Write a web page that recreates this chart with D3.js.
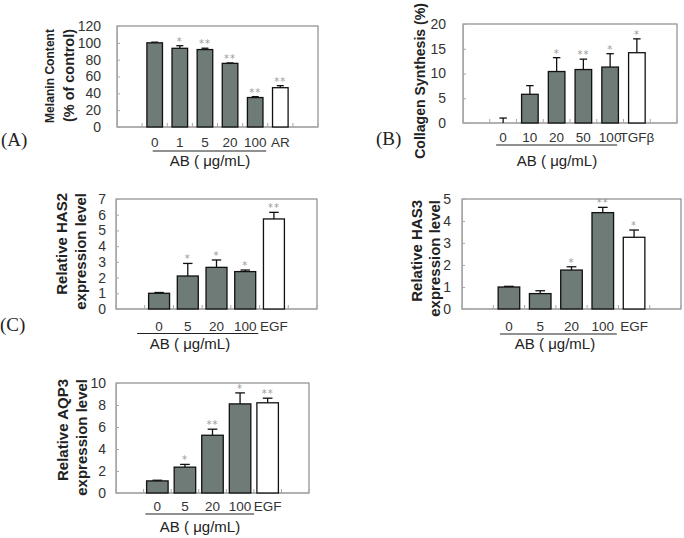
<!DOCTYPE html>
<html>
<head>
<meta charset="utf-8">
<script src="https://cdn.jsdelivr.net/npm/d3@7"></script>
<style>
  body { margin: 0; background: #fff; }
  svg { display: block; }
</style>
</head>
<body>
<svg width="684" height="538"></svg>
<script>
// ---- data ----
const melCats = ["0", "1", "5", "20", "100", "AR"];
const melValues = [100, 93.5, 92, 75.6, 35, 46.7];
const melErrors = [0.8, 3.1, 1.6, 0.5, 1.1, 2.4];
const melStars = ["", "*", "**", "**", "**", "**"];
const melTicks = [0, 20, 40, 60, 80, 100, 120];

const colCats = ["0", "10", "20", "50", "100", "TGFβ"];
const colValues = [0, 5.8, 10.4, 10.8, 11.3, 14.2];
const colErrors = [1.0, 1.75, 2.8, 2.1, 2.7, 2.8];
const colStars = ["", "", "*", "**", "*", "*"];
const colTicks = [0, 5, 10, 15, 20];

const egfCats = ["0", "5", "20", "100", "EGF"];

const has2Values = [1.0, 2.1, 2.65, 2.38, 5.73];
const has2Errors = [0.05, 0.8, 0.47, 0.1, 0.42];
const has2Stars = ["", "*", "*", "*", "**"];
const has2Ticks = [0, 1, 2, 3, 4, 5, 6, 7];

const has3Values = [1.0, 0.7, 1.77, 4.38, 3.26];
const has3Errors = [0.03, 0.13, 0.15, 0.24, 0.33];
const has3Stars = ["", "", "*", "**", "*"];
const has3Ticks = [0, 1, 2, 3, 4, 5];

const aqp3Values = [1.1, 2.35, 5.25, 8.1, 8.2];
const aqp3Errors = [0.06, 0.25, 0.55, 1.0, 0.42];
const aqp3Stars = ["", "*", "**", "*", "**"];
const aqp3Ticks = [0, 2, 4, 6, 8, 10];

const unitLabel = "AB ( μg/mL)";

const svg = d3.select("svg");
const barGrey = "#6e7b77";
const tickFont = "'Liberation Sans Narrow', 'Liberation Sans', sans-serif";
const titleFont = "'Liberation Sans', Arial, sans-serif";

function drawPanel(p) {
  const g = svg.append("g");
  const n = p.cats.length;
  const pi = p.pad;

  // one empty slot on each side of the bars
  const x = d3.scaleBand()
    .domain(p.cats)
    .range([p.left, p.right])
    .paddingInner(pi)
    .paddingOuter(1 + pi / 2);
  const y = d3.scaleLinear()
    .domain([0, d3.max(p.ticks)])
    .range([p.bottom, p.top]);

  // frame
  g.append("rect")
    .attr("x", p.left).attr("y", p.top)
    .attr("width", p.right - p.left).attr("height", p.bottom - p.top)
    .attr("fill", "none").attr("stroke", "#8c8c8c").attr("stroke-width", 1.2);

  // y axis
  const ya = g.append("g")
    .attr("transform", `translate(${p.left},0)`)
    .call(d3.axisLeft(y).tickValues(p.ticks).tickFormat(d3.format("d"))
      .tickSizeInner(-3).tickSizeOuter(0).tickPadding(p.tickPad));
  ya.select(".domain").attr("stroke", "#a8a8a8");
  ya.selectAll(".tick line").attr("stroke", "#a8a8a8");
  ya.selectAll(".tick text")
    .attr("font-family", tickFont).attr("font-size", 14).attr("fill", "#333");

  // bottom axis with slot boundary marks
  g.append("line")
    .attr("x1", p.left).attr("x2", p.right)
    .attr("y1", p.bottom).attr("y2", p.bottom)
    .attr("stroke", "#a8a8a8").attr("stroke-width", 1.2);
  const bounds = d3.range(n + 3).map(i => x.range()[0] + i * x.step());
  g.selectAll(".slot").data(bounds).enter().append("line")
    .attr("x1", d => d).attr("x2", d => d)
    .attr("y1", p.bottom).attr("y2", p.bottom - 4)
    .attr("stroke", "#a8a8a8");

  const rows = p.cats.map((c, i) => ({ c, v: p.values[i], e: p.errors[i], s: p.stars[i], last: i === n - 1 }));

  // error bars (upper only)
  const cap = x.bandwidth() * 0.45;
  rows.forEach(d => {
    const cx = x(d.c) + x.bandwidth() / 2;
    g.append("line")
      .attr("x1", cx).attr("x2", cx)
      .attr("y1", y(d.v)).attr("y2", y(d.v + d.e))
      .attr("stroke", "#111").attr("stroke-width", 1.3);
    g.append("line")
      .attr("x1", cx - cap / 2).attr("x2", cx + cap / 2)
      .attr("y1", y(d.v + d.e)).attr("y2", y(d.v + d.e))
      .attr("stroke", "#111").attr("stroke-width", 1.3);
  });

  // bars
  g.selectAll(".bar").data(rows).enter().append("rect")
    .attr("x", d => x(d.c))
    .attr("y", d => y(d.v))
    .attr("width", x.bandwidth())
    .attr("height", d => y(0) - y(d.v))
    .attr("fill", d => d.last ? "#fff" : barGrey)
    .attr("stroke", "#111").attr("stroke-width", 1.3);

  // significance marks
  g.selectAll(".star").data(rows).enter().append("text")
    .attr("x", d => x(d.c) + x.bandwidth() / 2)
    .attr("y", d => y(d.v + d.e) - 1)
    .attr("text-anchor", "middle")
    .attr("font-family", "'DejaVu Sans', sans-serif")
    .attr("font-size", 10).attr("letter-spacing", 1)
    .attr("fill", "#9a9a9a")
    .text(d => d.s);

  // category labels
  g.selectAll(".cat").data(rows).enter().append("text")
    .attr("x", d => x(d.c) + x.bandwidth() / 2)
    .attr("y", p.labelY)
    .attr("text-anchor", "middle")
    .attr("font-family", tickFont).attr("font-size", 13.5).attr("fill", "#333")
    .text(d => d.c);

  // bracket line under the AB doses
  const firstC = x(p.cats[0]) + x.bandwidth() / 2;
  const lastC = x(p.cats[n - 2]) + x.bandwidth() / 2;
  g.append("line")
    .attr("x1", firstC - p.ulL).attr("x2", lastC + p.ulR)
    .attr("y1", p.ulY).attr("y2", p.ulY)
    .attr("stroke", "#222").attr("stroke-width", 1.2);
  g.append("text")
    .attr("x", p.abX).attr("y", p.abY)
    .attr("text-anchor", "middle")
    .attr("font-family", tickFont).attr("font-size", 15).attr("fill", "#222")
    .text(unitLabel);

  // y titles: font size chosen so the natural length matches the figure
  p.titles.forEach(t => {
    const txt = g.append("text")
      .attr("transform", `translate(${t.x},${p.titleTop}) rotate(-90)`)
      .attr("text-anchor", "end")
      .attr("font-family", titleFont)
      .attr("font-weight", "bold")
      .attr("font-size", 14)
      .attr("fill", "#222")
      .text(t.text);
    const w = txt.node().getComputedTextLength();
    const fs = Math.min(15, 14 * t.len / w);
    txt.attr("font-size", fs).attr("dy", (0.35 * fs) + "px");
  });

  if (p.tag) {
    g.append("text")
      .attr("x", p.tag.x).attr("y", p.tag.y)
      .attr("font-family", "'Liberation Serif', 'DejaVu Serif', serif")
      .attr("font-size", 19).attr("fill", "#222")
      .text(p.tag.text);
  }
}

drawPanel({
  cats: melCats, values: melValues, errors: melErrors, stars: melStars, ticks: melTicks,
  left: 117, right: 318, top: 26, bottom: 127, pad: 0.38, tickPad: 16,
  labelY: 147, ulY: 151, ulL: 2, ulR: 11, abX: 210, abY: 166,
  titleTop: 29,
  titles: [{ text: "Melanin Content", x: 50, len: 94 },
           { text: "(% of control)", x: 69, len: 93 }],
  tag: { text: "(A)", x: 1, y: 146 }
});

drawPanel({
  cats: colCats, values: colValues, errors: colErrors, stars: colStars, ticks: colTicks,
  left: 463, right: 677, top: 24, bottom: 123, pad: 0.38, tickPad: 17,
  labelY: 142, ulY: 145, ulL: 7, ulR: 7, abX: 557, abY: 166,
  titleTop: 3,
  titles: [{ text: "Collagen Synthesis (%)", x: 420, len: 156 }],
  tag: { text: "(B)", x: 376, y: 145 }
});

drawPanel({
  cats: egfCats, values: has2Values, errors: has2Errors, stars: has2Stars, ticks: has2Ticks,
  left: 116, right: 317, top: 199, bottom: 309, pad: 0.27, tickPad: 10,
  labelY: 331, ulY: 333.5, ulL: 22, ulR: 13, abX: 190, abY: 349,
  titleTop: 193,
  titles: [{ text: "Relative HAS2", x: 62, len: 110 },
           { text: "expression level", x: 81, len: 122 }],
  tag: { text: "(C)", x: 0, y: 331 }
});

drawPanel({
  cats: egfCats, values: has3Values, errors: has3Errors, stars: has3Stars, ticks: has3Ticks,
  left: 462, right: 681, top: 199, bottom: 309, pad: 0.31, tickPad: 11,
  labelY: 331, ulY: 334, ulL: 9, ulR: 14, abX: 555, abY: 349,
  titleTop: 200,
  titles: [{ text: "Relative HAS3", x: 417, len: 113 },
           { text: "expression level", x: 435, len: 123 }]
});

drawPanel({
  cats: egfCats, values: aqp3Values, errors: aqp3Errors, stars: aqp3Stars, ticks: aqp3Ticks,
  left: 116, right: 309, top: 383, bottom: 493, pad: 0.22, tickPad: 10,
  labelY: 511, ulY: 514, ulL: 12, ulR: 14, abX: 200, abY: 532,
  titleTop: 379,
  titles: [{ text: "Relative AQP3", x: 63, len: 107 },
           { text: "expression level", x: 82, len: 117 }]
});
</script>
</body>
</html>
